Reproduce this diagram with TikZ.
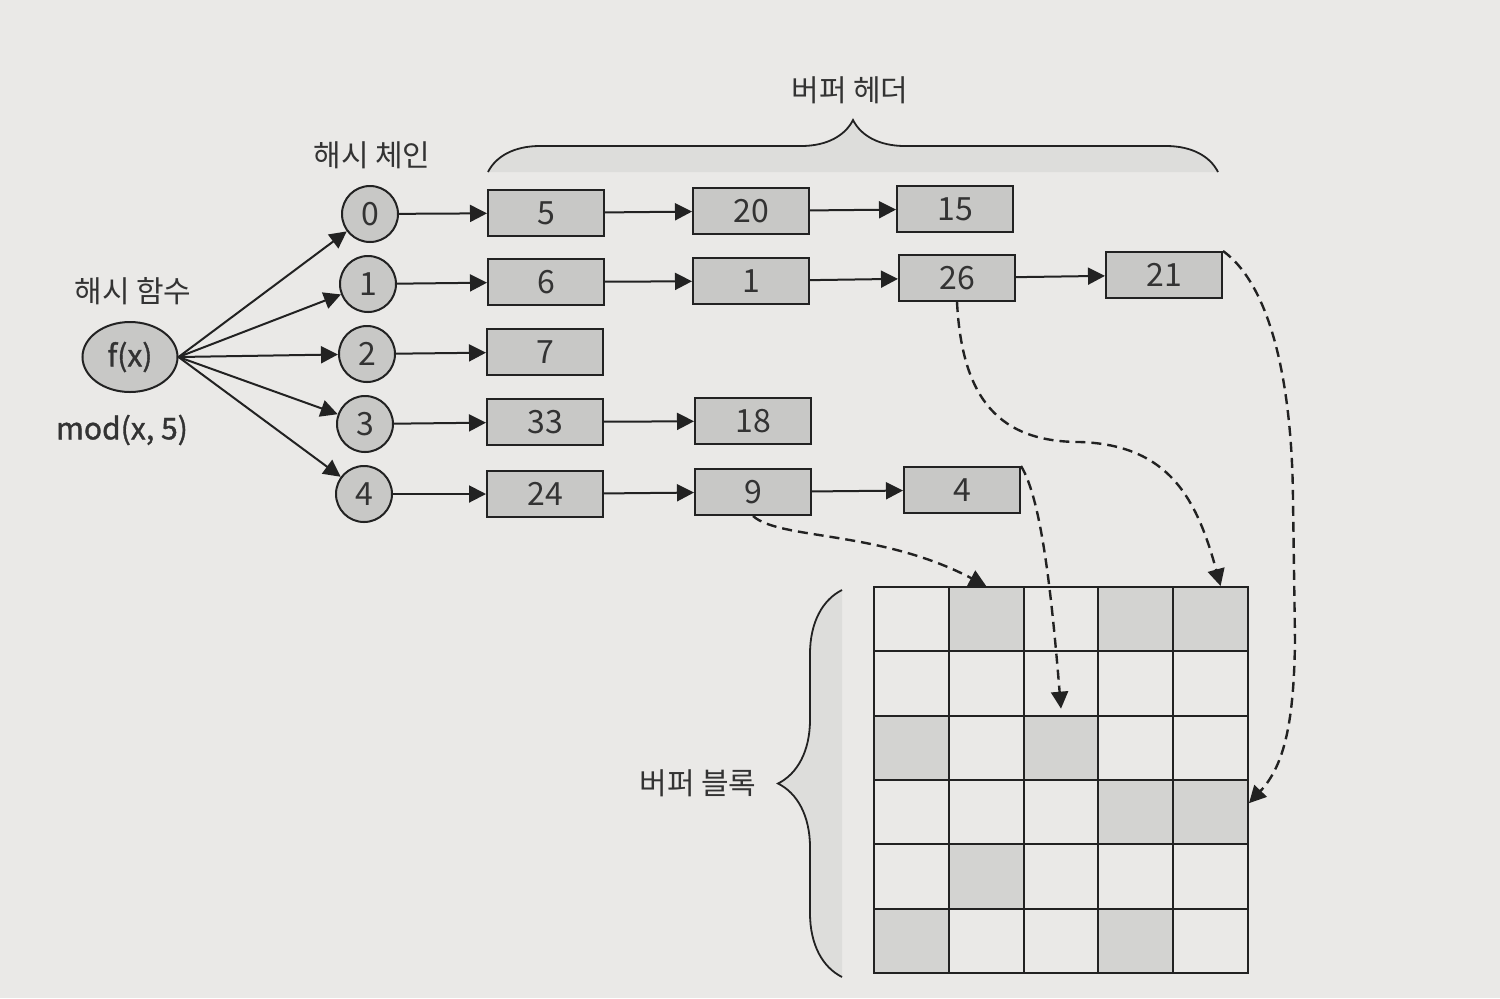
\documentclass[tikz,border=0pt]{standalone}
\usepackage{fontspec}
\setmainfont{Noto Sans CJK KR}
\newfontfamily\modfont[FakeBold=1.2]{Noto Sans CJK KR}
\usetikzlibrary{arrows.meta,decorations.pathreplacing,shapes.geometric}
\definecolor{bg}{HTML}{EAE9E7}
\definecolor{boxfill}{HTML}{C8C8C6}
\definecolor{cellfill}{HTML}{D3D3D1}
\definecolor{braceshade}{HTML}{DDDDDB}
\definecolor{ink}{HTML}{222222}
\definecolor{txt}{HTML}{333333}
\tikzset{
  arr/.style={draw=ink, line width=1pt, -{Triangle[length=8.5pt,width=8.5pt]}},
  darr/.style={draw=ink, line width=1.2pt, dash pattern=on 5pt off 3pt, -{Triangle[length=8.5pt,width=8.5pt]}},
  slot/.style={circle, draw=ink, line width=1pt, fill=boxfill, minimum size=28pt, inner sep=0pt, text=txt, font=\fontsize{16}{18}\selectfont},
  hbox/.style={rectangle, draw=ink, line width=1pt, fill=boxfill, minimum width=58pt, minimum height=23pt, inner sep=0pt, text=txt, font=\fontsize{16}{18}\selectfont},
  cell/.style={rectangle, draw=ink, line width=1pt, minimum width=37.4pt, minimum height=32.17pt, inner sep=0pt},
  lbl/.style={text=txt, font=\fontsize{15}{18}\selectfont},
  bracestyle/.style={draw=ink, line width=0.9pt}
}
\begin{document}
\begin{tikzpicture}[x=0.5pt,y=-0.5pt]
\useasboundingbox (0,0) rectangle (1500,998);
\fill[bg] (0,0) rectangle (1500,998);

% braces with shading
\fill[braceshade, decorate, decoration={brace,amplitude=26pt}] (488,172) -- (1218,172);
\draw[bracestyle, decorate, decoration={brace,amplitude=26pt}] (488,172) -- (1218,172);
\fill[braceshade, decorate, decoration={brace,amplitude=32pt}] (842,977) -- (842,590);
\draw[bracestyle, decorate, decoration={brace,amplitude=32pt}] (842,977) -- (842,590);

% labels
\node[lbl] (lhead) at (850,90) {버퍼 헤더};
\node[lbl] (lchain) at (372,155) {해시 체인};
\node[lbl] (lfunc) at (133,291) {해시 함수};
\node[lbl, font=\fontsize{15}{18}\modfont] (lmod) at (122,430) {mod(x, 5)};
\node[lbl] (lblock) at (698,783) {버퍼 블록};

% hash function
\node[ellipse, draw=ink, line width=1pt, fill=boxfill, minimum width=47.5pt, minimum height=35pt, inner sep=0pt, text=txt, font=\fontsize{15}{18}\modfont] (f) at (130,357) {f(x)};

% chain slots
\node[slot] (c0) at (370,214) {0};
\node[slot] (c1) at (368,284) {1};
\node[slot] (c2) at (367,354) {2};
\node[slot] (c3) at (365,424) {3};
\node[slot] (c4) at (364,494) {4};

% buffer headers
\node[hbox] (b5)  at (546,213) {5};
\node[hbox] (b20) at (751,211) {20};
\node[hbox] (b15) at (955,209) {15};
\node[hbox] (b6)  at (546,282) {6};
\node[hbox] (b1)  at (751,281) {1};
\node[hbox] (b26) at (957,278) {26};
\node[hbox] (b21) at (1164,275) {21};
\node[hbox] (b7)  at (545,352) {7};
\node[hbox] (b33) at (545,422) {33};
\node[hbox] (b18) at (753,421) {18};
\node[hbox] (b24) at (545,494) {24};
\node[hbox] (b9)  at (753,492) {9};
\node[hbox] (b4)  at (962,490) {4};

% arrows from f(x)
\foreach \i in {0,...,4} \draw[arr] (f.east) -- (c\i);

% chain arrows
\draw[arr] (c0) -- (b5);
\draw[arr] (b5) -- (b20);
\draw[arr] (b20) -- (b15);
\draw[arr] (c1) -- (b6);
\draw[arr] (b6) -- (b1);
\draw[arr] (b1) -- (b26);
\draw[arr] (b26) -- (b21);
\draw[arr] (c2) -- (b7);
\draw[arr] (c3) -- (b33);
\draw[arr] (b33) -- (b18);
\draw[arr] (c4) -- (b24);
\draw[arr] (b24) -- (b9);
\draw[arr] (b9) -- (b4);

% buffer block grid
\foreach \r in {0,...,5}
  \foreach \c in {0,...,4}
    \node[cell] (g\r\c) at ({911.4+74.8*\c},{619.17+64.33*\r}) {};
\foreach \r/\c in {0/1,0/3,0/4,2/0,2/2,3/3,3/4,4/1,5/0,5/3}
  \node[cell, fill=cellfill] at (g\r\c) {};

% dashed arrows
\draw[darr] (b9.south) .. controls (780,540) and (880,530) .. (g01.north);
\draw[darr] (b26.south) .. controls (962,400) and (1000,442) .. (1080,442)
            .. controls (1170,445) and (1197,500) .. ([xshift=5pt]g04.north);
\draw[darr] (b4.north east) .. controls (1042,500) and (1052,600) .. ([yshift=4pt]g12.south);
\draw[darr] (b21.north east) .. controls (1270,285) and (1292,380) .. (1293,500)
            -- (1295,640) .. controls (1294,720) and (1285,765) .. ([yshift=4.5pt]g34.east);
\end{tikzpicture}
\end{document}
